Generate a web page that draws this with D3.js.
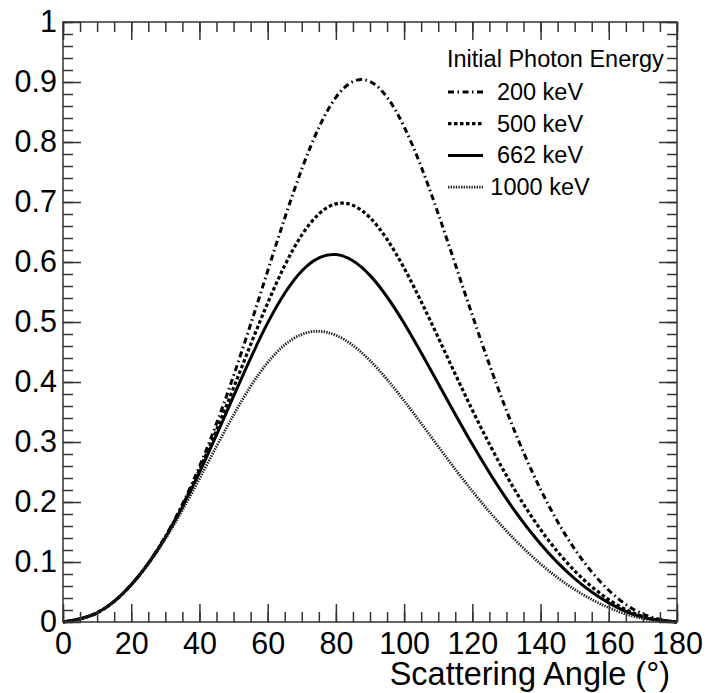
<!DOCTYPE html>
<html>
<head>
<meta charset="utf-8">
<script src="https://cdn.jsdelivr.net/npm/d3@7"></script>
<style>
  body { margin: 0; background: #fff; }
  text { font-family: "Liberation Sans", Arial, Helvetica, sans-serif; fill: #000; }
  .tickLb { font-size: 30.5px; }
  .axisLb { font-size: 32.5px; }
  .legLb { font-size: 23.5px; }
</style>
</head>
<body>
<div id="main"></div>
<script>
// scattering angle (deg) at which values were read
const angles = [0, 10, 20, 30, 40, 50, 60, 70, 80, 90, 100, 110, 120, 130, 140, 150, 160, 170, 180];
// curve values, one array per initial photon energy
const e200  = [0, 0.0153, 0.0621, 0.1426, 0.2591, 0.4103, 0.5850, 0.7549, 0.8744, 0.9008, 0.8256, 0.6804, 0.5112, 0.3525, 0.2210, 0.1215, 0.0529, 0.0131, 0];
const e500  = [0, 0.0153, 0.0620, 0.1416, 0.2536, 0.3903, 0.5316, 0.6450, 0.6969, 0.6739, 0.5899, 0.4741, 0.3533, 0.2441, 0.1541, 0.0853, 0.0374, 0.0093, 0];
const e662  = [0, 0.0153, 0.0619, 0.1408, 0.2493, 0.3763, 0.4985, 0.5851, 0.6124, 0.5777, 0.4980, 0.3976, 0.2961, 0.2051, 0.1300, 0.0723, 0.0318, 0.0079, 0];
const e1000 = [0, 0.0153, 0.0617, 0.1385, 0.2387, 0.3450, 0.4325, 0.4794, 0.4779, 0.4357, 0.3687, 0.2925, 0.2181, 0.1518, 0.0968, 0.0542, 0.0239, 0.0060, 0];
const seriesNames = ["200 keV", "500 keV", "662 keV", "1000 keV"];
const legendTitle = "Initial Photon Energy";
const xTitle = "Scattering Angle (\u00B0)";
const xMajor = [0, 20, 40, 60, 80, 100, 120, 140, 160, 180];
const yMajor = [0, 0.1, 0.2, 0.3, 0.4, 0.5, 0.6, 0.7, 0.8, 0.9, 1];

const ctx = {
    w: 707,
    h: 693,
    left: 63, right: 677, top: 22, bottom: 622,
    frame: "#333",
};

// line style of each series
const styles = [
    {dash: "6,3.5,1.5,3.5", width: 3, color: "#000"},
    {dash: "3.5,2.5", width: 3.2, color: "#000"},
    {dash: null, width: 3, color: "#000"},
    {dash: "1.4,1.2", width: 2.8, color: "#222"},
];

function drawAxes(g){
    // minor ticks every 5 deg / 0.02, major with labels
    const xMinor = d3.range(0, 181, 5);
    const yMinor = d3.range(0, 51).map(i => i * 0.02);
    const tickStyle = (sel) => {
        sel.select(".domain").remove();
        sel.selectAll("line").attr("stroke", ctx.frame).attr("stroke-width", 1.5);
    };
    // bottom
    g.append("g").attr("transform", `translate(0,${ctx.bottom})`)
      .call(d3.axisBottom(ctx.xScale).tickValues(xMinor).tickSize(-10).tickFormat(""))
      .call(tickStyle);
    g.append("g").attr("transform", `translate(0,${ctx.bottom})`)
      .call(d3.axisBottom(ctx.xScale).tickValues(xMajor).tickSize(-18).tickPadding(10))
      .call(tickStyle)
      .selectAll("text").attr("class", "tickLb").attr("fill", "#000");
    // top
    g.append("g").attr("transform", `translate(0,${ctx.top})`)
      .call(d3.axisTop(ctx.xScale).tickValues(xMinor).tickSize(-10).tickFormat(""))
      .call(tickStyle);
    g.append("g").attr("transform", `translate(0,${ctx.top})`)
      .call(d3.axisTop(ctx.xScale).tickValues(xMajor).tickSize(-18).tickFormat(""))
      .call(tickStyle);
    // left
    g.append("g").attr("transform", `translate(${ctx.left},0)`)
      .call(d3.axisLeft(ctx.yScale).tickValues(yMinor).tickSize(-10).tickFormat(""))
      .call(tickStyle);
    g.append("g").attr("transform", `translate(${ctx.left},0)`)
      .call(d3.axisLeft(ctx.yScale).tickValues(yMajor).tickSize(-18).tickPadding(6)
            .tickFormat(d3.format(".1~f")))
      .call(tickStyle)
      .selectAll("text").attr("class", "tickLb").attr("fill", "#000");
    // right
    g.append("g").attr("transform", `translate(${ctx.right},0)`)
      .call(d3.axisRight(ctx.yScale).tickValues(yMinor).tickSize(-10).tickFormat(""))
      .call(tickStyle);
    g.append("g").attr("transform", `translate(${ctx.right},0)`)
      .call(d3.axisRight(ctx.yScale).tickValues(yMajor).tickSize(-18).tickFormat(""))
      .call(tickStyle);
    // frame
    g.append("rect")
      .attr("x", ctx.left).attr("y", ctx.top)
      .attr("width", ctx.right - ctx.left).attr("height", ctx.bottom - ctx.top)
      .attr("fill", "none").attr("stroke", ctx.frame).attr("stroke-width", 1.5);
    // x-axis title
    g.append("text")
      .attr("x", 670).attr("y", 685)
      .attr("text-anchor", "end")
      .classed("axisLb", true)
      .text(xTitle);
}

function drawCurves(g){
    const all = [e200, e500, e662, e1000];
    const line = d3.line()
        .x(d => ctx.xScale(d[0]))
        .y(d => ctx.yScale(d[1]))
        .curve(d3.curveNatural);
    all.forEach((vals, i) => {
        const pts = angles.map((a, j) => [a, vals[j]]);
        g.append("path")
          .attr("d", line(pts))
          .attr("fill", "none")
          .attr("stroke", styles[i].color)
          .attr("stroke-width", styles[i].width)
          .attr("stroke-dasharray", styles[i].dash);
    });
}

function drawLegend(g){
    g.append("text")
      .attr("x", 447).attr("y", 67)
      .classed("legLb", true)
      .text(legendTitle);
    seriesNames.forEach((name, i) => {
        const base = 100 + i * 31.7;
        g.append("line")
          .attr("x1", 448).attr("x2", 483)
          .attr("y1", base - 8).attr("y2", base - 8)
          .attr("stroke", styles[i].color)
          .attr("stroke-width", styles[i].width)
          .attr("stroke-dasharray", styles[i].dash);
        g.append("text")
          .attr("x", 540).attr("y", base)
          .attr("text-anchor", "middle")
          .classed("legLb", true)
          .text(name);
    });
}

function createViz(){
    const svgEl = d3.select("#main").append("svg")
        .attr("width", ctx.w).attr("height", ctx.h);
    ctx.xScale = d3.scaleLinear().domain([0, 180]).range([ctx.left, ctx.right]);
    ctx.yScale = d3.scaleLinear().domain([0, 1]).range([ctx.bottom, ctx.top]);
    const rootG = svgEl.append("g").attr("id", "rootG");
    drawCurves(rootG.append("g").attr("id", "curves"));
    drawAxes(rootG.append("g").attr("id", "bkgG"));
    drawLegend(rootG.append("g").attr("id", "legend"));
}

createViz();
</script>
</body>
</html>
